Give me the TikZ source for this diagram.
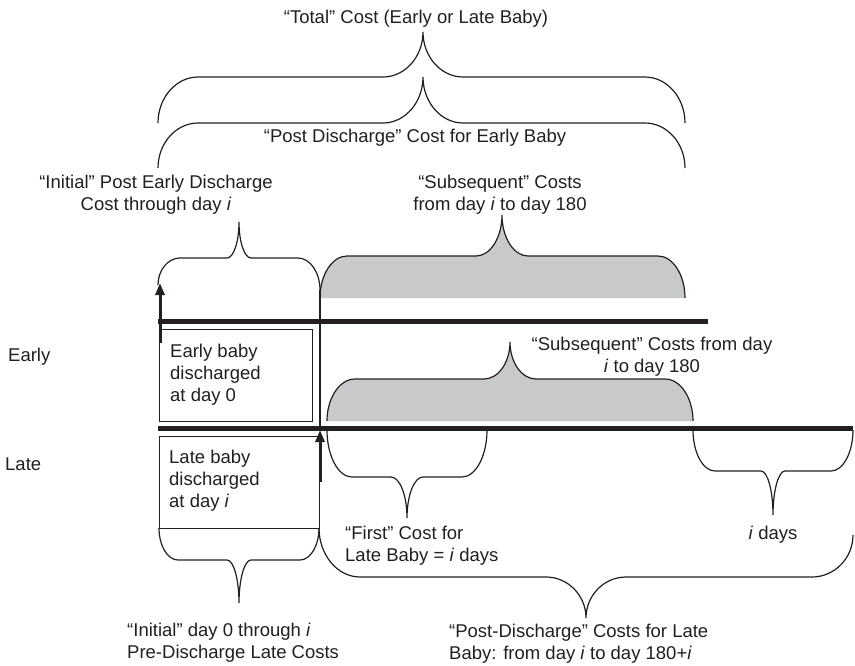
\documentclass[tikz,border=0pt]{standalone}
\usepackage{fontspec}
\setmainfont{Liberation Sans}
\usetikzlibrary{arrows.meta}
\definecolor{fillgray}{RGB}{200,201,203}
\definecolor{ink}{RGB}{35,31,32}
% brace path: left x, left y, right x, right y, mid y, tip x, tip y, end rx, tip rx
\newcommand\brc[9]{(#1,#2) .. controls (#1,{#2+0.55*(#5-#2)}) and ({#1+0.45*#8},#5) .. ({#1+#8},#5)
 -- ({#6-#9},#5) .. controls ({#6-0.45*#9},#5) and (#6,{#7+0.55*(#5-#7)}) .. (#6,#7)
 .. controls (#6,{#7+0.55*(#5-#7)}) and ({#6+0.45*#9},#5) .. ({#6+#9},#5)
 -- ({#3-#8},#5) .. controls ({#3-0.45*#8},#5) and (#3,{#4+0.55*(#5-#4)}) .. (#3,#4)}
\begin{document}
\begin{tikzpicture}[x=1pt,y=-1pt,
  font=\fontsize{18.5}{22}\selectfont,
  txt/.style={inner sep=0pt, text=ink},
  brline/.style={draw=ink, line width=1.2pt},
  timeline/.style={draw=ink, line width=5pt},
  arrowline/.style={draw=ink, line width=3pt, -{Triangle[length=12pt,width=9pt]}},
  boxstyle/.style={draw=ink, line width=1.2pt, inner sep=0pt, anchor=north west}]
\useasboundingbox (0,0) rectangle (855,665);

% gray filled braces
\fill[fillgray] \brc{320}{298}{685}{298}{256}{502}{215}{27}{26} -- cycle;
\fill[fillgray] \brc{327}{421}{693}{421}{379}{510}{342}{28}{26} -- cycle;

% top braces
\draw[brline] \brc{158}{123}{685}{123}{77}{423}{32}{40}{40};
\draw[brline] \brc{158}{168}{685}{168}{123}{423}{77}{40}{40};
% initial early brace
\draw[brline] \brc{158}{285}{320}{290}{258}{239}{222}{22}{12};
% gray brace outlines
\draw[brline] \brc{320}{298}{685}{298}{256}{502}{215}{27}{26};
\draw[brline] \brc{327}{421}{693}{421}{379}{510}{342}{28}{26};
% lower braces
\draw[brline] \brc{327}{430}{487}{430}{477}{407}{518}{25}{16};
\draw[brline] \brc{693}{430}{853}{430}{471}{773}{515}{22}{12};
\draw[brline] \brc{159}{528}{319}{528}{560}{239}{603}{19}{12};
\draw[brline] \brc{319}{528}{853}{535}{577}{586}{618}{41}{40};

% boxes
\node[boxstyle, minimum width=153pt, minimum height=92pt] (ebox) at (159,329) {};
\node[boxstyle, minimum width=160pt, minimum height=92pt] (lbox) at (159,436) {};

% thin vertical divider
\coordinate (v0) at (320,290);
\coordinate (v1) at (320,428);
\draw[brline] (v0) -- (v1);

% timelines
\coordinate (eL) at (157.5,321);
\coordinate (eR) at (708,321);
\coordinate (lL) at (157.5,428);
\coordinate (lR) at (853,428);
\draw[timeline] (eL) -- (eR);
\draw[timeline] (lL) -- (lR);

% discharge arrows
\coordinate (ea0) at (160,343);
\coordinate (ea1) at (160,283);
\draw[arrowline] (ea0) -- (ea1);
\coordinate (la0) at (320,482);
\coordinate (la1) at (320,430);
\draw[arrowline] (la0) -- (la1);

% texts (anchor=base of a multi-line node is the last line's baseline)
\node[txt, anchor=base] (total) at (416,23) {“Total” Cost (Early or Late Baby)};
\node[txt, anchor=base] (postearly) at (415,142) {“Post Discharge” Cost for Early Baby};
\node[txt, anchor=base, align=center] (initearly) at (156,210) {“Initial” Post Early Discharge\\Cost through day \textit{i}};
\node[txt, anchor=base, align=center] (subup) at (500,210) {“Subsequent” Costs\\from day \textit{i} to day 180};
\node[txt, anchor=base west] (early) at (8,361) {Early};
\node[txt, anchor=base west] (late) at (5,470) {Late};
\node[txt, anchor=base west, align=left] (etext) at (170,401) {Early baby\\discharged\\at day 0};
\node[txt, anchor=base west, align=left] (ltext) at (169,507) {Late baby\\discharged\\at day \textit{i}};
\node[txt, anchor=base, align=center] (sublow) at (652,372) {“Subsequent” Costs from day\\\textit{i} to day 180};
\node[txt, anchor=base west, align=left] (first) at (345,561) {“First” Cost for\\Late Baby = \textit{i} days};
\node[txt, anchor=base] (idays) at (773,539) {\textit{i} days};
\node[txt, anchor=base west, align=left] (initlate) at (127,658) {“Initial” day 0 through \textit{i}\\Pre-Discharge Late Costs};
\node[txt, anchor=base west, align=left] (postlate) at (449,659) {“Post-Discharge” Costs for Late\\Baby: from day \textit{i} to day 180+\textit{i}};
\end{tikzpicture}
\end{document}
